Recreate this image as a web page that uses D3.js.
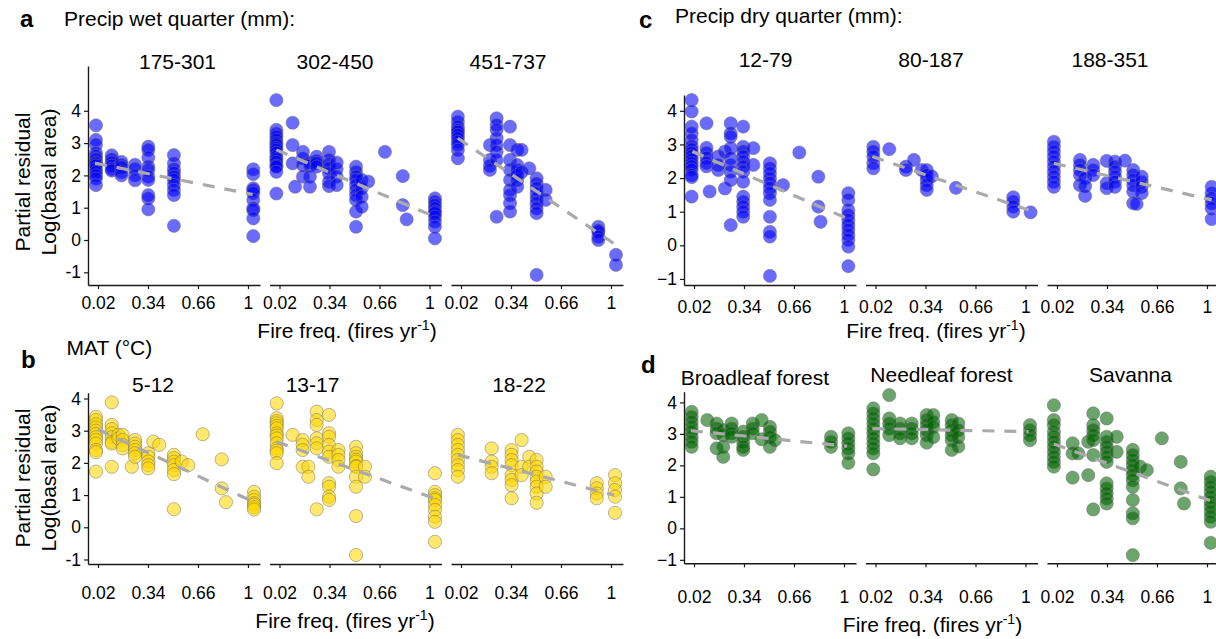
<!DOCTYPE html>
<html><head><meta charset="utf-8">
<script src="https://cdn.jsdelivr.net/npm/d3@7"></script>
<style>
body{margin:0;background:#fff}
text{font-family:"Liberation Sans",Arial,Helvetica,sans-serif;fill:#000}
</style>
</head><body>
<svg id="chart" width="1216" height="639"></svg>
<script>
// ---------- tick labels ----------
const xTickValues = [0.02, 0.34, 0.66, 0.98];
const xTickLabels = ["0.02", "0.34", "0.66", "1"];
const yTickValues = [-1, 0, 1, 2, 3, 4];

// ---------- panel a: Precip wet quarter ----------
const facetsA = ["175-301", "302-450", "451-737"];
const a1 = [
  [0.007, [3.55, 3.1, 2.95, 2.7, 2.6, 2.5, 2.4, 2.35, 2.3, 2.2, 2.1, 2.0, 1.9, 1.7]],
  [0.108, [2.62, 2.5, 2.4, 2.3, 2.2, 2.15]],
  [0.17, [2.42, 2.33, 2.25, 2.1, 2.0]],
  [0.257, [2.33, 2.2, 2.0, 1.85]],
  [0.342, [2.89, 2.79, 2.55, 2.27, 2.17, 1.96, 1.86, 1.39, 1.29, 0.95]],
  [0.506, [2.63, 2.37, 2.19, 2.08, 1.96, 1.86, 1.7, 1.55, 1.39, 0.44]],
  [1.014, [2.19, 2.04, 1.6, 1.55, 1.45, 1.24, 0.98, 0.93, 0.67, 0.12]]
];
const a2 = [
  [0.0, [4.33, 3.41, 3.3, 3.2, 3.1, 3.0, 2.94, 2.85, 2.79, 2.7, 2.58, 2.5, 2.42, 2.3, 2.27, 2.11, 1.44]],
  [0.104, [3.63, 2.94, 2.37]],
  [0.12, [1.65]],
  [0.17, [2.73, 2.53, 2.32, 1.96]],
  [0.215, [2.4, 2.3, 1.96, 1.65]],
  [0.258, [2.58, 2.45, 2.38, 2.27]],
  [0.337, [2.73, 2.48, 2.35, 2.22, 2.06, 1.81, 1.67]],
  [0.386, [2.4, 2.2, 1.96, 1.7]],
  [0.51, [2.27, 2.11, 1.96, 1.86, 1.7, 1.55, 1.39, 1.24, 0.88, 0.41]],
  [0.546, [1.86, 1.6, 1.34, 1.03]],
  [0.588, [1.81]],
  [0.695, [2.73]],
  [0.809, [1.98, 1.08]],
  [0.834, [0.64]],
  [1.015, [1.29, 1.19, 1.08, 0.98, 0.88, 0.83, 0.72, 0.57, 0.41, 0.05]]
];
const a3 = [
  [0.0, [3.82, 3.66, 3.51, 3.4, 3.35, 3.25, 3.15, 3.04, 2.94, 2.79, 2.53]],
  [0.205, [2.94, 2.48, 2.3, 2.17]],
  [0.248, [3.77, 3.56, 3.41, 3.15, 2.94, 2.73, 2.48, 0.72]],
  [0.334, [3.51, 2.94, 2.48, 2.17, 1.86, 1.55, 1.39, 1.14, 0.88]],
  [0.38, [2.79, 2.32, 2.17, 2.01, 1.86, 1.65]],
  [0.408, [2.79, 2.1]],
  [0.457, [2.22]],
  [0.504, [1.91, 1.75, 1.6, 1.44, 1.29, 1.14, 0.98, 0.83, -1.08]],
  [0.562, [1.55, 1.24]],
  [0.899, [0.41, 0.3, 0.26, 0.1, 0.0]],
  [1.012, [-0.46, -0.77]]
];
const trendA = [[0.0, 2.38, 1.01, 1.41], [0.0, 2.79, 1.015, 0.72], [0.0, 3.15, 0.996, -0.1]];

// ---------- panel b: MAT ----------
const facetsB = ["5-12", "13-17", "18-22"];
const b1 = [
  [0.007, [3.43, 3.33, 3.2, 3.1, 3.0, 2.9, 2.8, 2.71, 2.6, 2.4, 2.33, 1.73]],
  [0.108, [3.88, 3.18, 3.05, 2.92, 2.8, 2.65, 2.6, 1.88]],
  [0.15, [2.87, 2.76]],
  [0.178, [2.87, 2.71, 2.56, 2.45]],
  [0.236, [1.88]],
  [0.257, [2.71, 2.6, 2.5, 2.4, 2.3, 2.19]],
  [0.342, [2.3, 2.19, 2.04, 1.93, 1.83]],
  [0.374, [2.66]],
  [0.412, [2.56]],
  [0.506, [2.25, 2.15, 2.04, 1.93, 1.78, 1.65, 0.56]],
  [0.556, [2.04]],
  [0.598, [1.93]],
  [0.69, [2.89]],
  [0.812, [2.11, 1.21]],
  [0.839, [0.78]],
  [1.019, [1.1, 0.95, 0.85, 0.75, 0.7, 0.62, 0.55]]
];
const b2 = [
  [0.002, [3.85, 3.39, 3.3, 3.23, 3.15, 3.07, 2.92, 2.85, 2.76, 2.61, 2.45, 2.38, 2.3, 1.99]],
  [0.104, [2.87]],
  [0.168, [2.71, 2.56, 2.4, 1.88]],
  [0.205, [1.88, 1.57]],
  [0.258, [3.59, 3.33, 3.18, 2.76, 2.61, 2.45, 0.56]],
  [0.337, [3.49, 2.92, 2.81, 2.56, 2.35, 2.19, 1.37, 1.26, 0.95, 0.85]],
  [0.397, [2.4, 2.25, 2.09, 1.88]],
  [0.51, [2.5, 2.3, 2.19, 2.1, 2.04, 1.9, 1.88, 1.57, 1.26, 0.35, -0.86]],
  [0.567, [1.88, 1.57]],
  [1.015, [1.68, 1.1, 1.0, 0.9, 0.85, 0.69, 0.54, 0.33, 0.17, -0.45]]
];
const b3 = [
  [0.0, [2.87, 2.71, 2.56, 2.4, 2.25, 2.09, 1.93, 1.78, 1.57]],
  [0.216, [2.45, 2.04, 1.88, 1.68]],
  [0.344, [2.4, 2.25, 2.09, 1.93, 1.62, 1.47, 1.31, 0.9]],
  [0.408, [2.71, 1.88, 1.62]],
  [0.457, [2.19, 1.88]],
  [0.504, [2.09, 1.88, 1.73, 1.57, 1.42, 1.26, 1.05, 0.76]],
  [0.562, [1.57, 1.26]],
  [0.889, [1.37, 1.21, 1.05, 0.9]],
  [1.006, [1.62, 1.37, 1.16, 0.95, 0.45]]
];
const trendB = [[0.02, 3.04, 1.01, 0.8], [0.0, 2.66, 1.01, 0.9], [0.0, 2.25, 1.0, 1.0]];

// ---------- panel c: Precip dry quarter ----------
const facetsC = ["12-79", "80-187", "188-351"];
const c1 = [
  [0.005, [4.32, 3.98, 3.53, 3.33, 3.13, 2.95, 2.85, 2.75, 2.65, 2.55, 2.44, 2.35, 2.25, 2.09, 2.03, 1.45]],
  [0.10, [3.63, 2.9, 2.75, 2.6, 2.45, 2.35]],
  [0.12, [1.6]],
  [0.175, [2.64, 2.39, 2.24]],
  [0.218, [2.79, 1.69]],
  [0.255, [3.63, 3.33, 3.23, 2.89, 2.59, 2.39, 2.19, 1.94, 0.6]],
  [0.335, [3.53, 2.93, 2.79, 2.64, 2.49, 2.34, 2.19, 1.89, 1.45, 1.3, 1.15, 1.0, 0.85]],
  [0.40, [2.89, 2.39]],
  [0.506, [2.44, 2.29, 2.14, 1.99, 1.85, 1.7, 1.55, 1.35, 0.85, 0.4, 0.26, -0.91]],
  [0.59, [1.79]],
  [0.694, [2.76]],
  [0.816, [2.04, 1.15]],
  [0.83, [0.7]],
  [1.008, [1.55, 1.35, 1.05, 0.9, 0.75, 0.6, 0.46, 0.31, 0.16, -0.04, -0.62]]
];
const c2 = [
  [0.006, [2.93, 2.79, 2.64, 2.44, 2.29]],
  [0.108, [2.86]],
  [0.215, [2.34, 2.24]],
  [0.266, [2.54]],
  [0.316, [2.24]],
  [0.348, [2.24, 2.09, 1.94, 1.79, 1.65]],
  [0.38, [2.05]],
  [0.535, [1.71]],
  [0.902, [1.43, 1.3, 1.15, 1.0]],
  [1.013, [0.98]]
];
const c3 = [
  [0.0, [3.08, 2.93, 2.79, 2.64, 2.49, 2.34, 2.19, 2.04, 1.89, 1.74]],
  [0.167, [2.54, 2.39, 2.24, 2.09, 1.79]],
  [0.2, [1.99, 1.76, 1.47]],
  [0.252, [2.39, 2.24, 2.09]],
  [0.338, [2.51, 1.85, 1.7]],
  [0.391, [2.49, 2.34, 2.19, 2.04, 1.89, 1.74]],
  [0.455, [2.52]],
  [0.508, [2.24, 2.09, 1.94, 1.79, 1.6, 1.25]],
  [0.53, [1.23]],
  [0.562, [2.04, 1.89, 1.74, 1.55]],
  [1.01, [1.74, 1.55, 1.4, 1.25, 1.1, 0.78]]
];
const trendC = [[0.01, 2.79, 1.0, 0.8], [0.0, 2.64, 1.0, 1.05], [0.0, 2.44, 1.01, 1.35]];

// ---------- panel d: vegetation type ----------
const facetsD = ["Broadleaf forest", "Needleaf forest", "Savanna"];
const d1 = [
  [0.005, [3.7, 3.54, 3.38, 3.22, 3.07, 2.91, 2.75, 2.59]],
  [0.105, [3.44]],
  [0.165, [3.33, 3.17, 3.02, 2.54]],
  [0.207, [3.12, 2.96, 2.59, 2.27]],
  [0.261, [3.33, 3.17, 3.02, 2.91]],
  [0.335, [3.07, 2.91, 2.75, 2.59, 2.49]],
  [0.396, [3.33, 3.17, 3.02]],
  [0.453, [3.44, 2.83]],
  [0.506, [3.22, 3.07, 2.9, 2.59]],
  [0.538, [2.8]],
  [0.897, [2.91, 2.75, 2.59]],
  [1.008, [3.02, 2.86, 2.7, 2.54, 2.38, 2.08]]
];
const d2 = [
  [0.006, [3.81, 3.65, 3.49, 3.33, 3.17, 3.02, 2.86, 2.7, 2.54, 2.38, 1.87]],
  [0.108, [4.23, 3.49, 3.33, 3.17, 2.96]],
  [0.177, [3.33, 3.17, 3.02, 2.86]],
  [0.252, [3.33, 3.17, 3.02, 2.86]],
  [0.348, [3.6, 3.44, 3.28, 3.12, 2.96, 2.72]],
  [0.39, [3.6, 3.38, 3.22, 2.9]],
  [0.508, [3.44, 3.28, 3.12, 2.96, 2.8, 2.49]],
  [0.55, [3.33, 3.12, 2.9, 2.6]],
  [1.009, [3.28, 3.12, 2.96, 2.8]]
];
const d3data = [
  [0.0, [3.91, 3.44, 3.28, 3.07, 2.91, 2.75, 2.59, 2.43, 2.27, 2.11, 1.96]],
  [0.12, [2.7, 2.38, 1.61]],
  [0.156, [2.38]],
  [0.22, [2.75, 1.69]],
  [0.252, [3.65, 3.28, 3.12, 2.96, 2.8, 2.33, 0.6]],
  [0.338, [3.49, 2.91, 2.75, 2.59, 2.43, 2.27, 2.11, 1.43, 1.27, 1.11, 0.95, 0.79]],
  [0.402, [2.91, 2.43]],
  [0.505, [2.49, 2.33, 2.17, 2.01, 1.85, 1.69, 1.53, 1.32, 0.9, 0.48, 0.32, -0.85]],
  [0.552, [1.96]],
  [0.595, [1.85]],
  [0.691, [2.86]],
  [0.812, [2.11, 1.27]],
  [0.833, [0.79]],
  [1.004, [1.64, 1.48, 1.32, 1.16, 1.0, 0.84, 0.69, 0.53, 0.37, 0.21, -0.46]]
];
const trendD = [[0.0, 3.1, 1.0, 2.61], [0.0, 3.17, 1.0, 3.07], [0.0, 2.68, 1.0, 0.88]];

// ---------- layout ----------
const FONT_BIG = 21, FONT_TICK = 17.5;
const xDomain = [-0.044, 1.057];
const facetW = 172, facetStep = 181.5;

const panels = [
  {letter: "a", lx: 20, ly: 27, header: "Precip wet quarter (mm):", hx: 64, hy: 26,
   facets: facetsA, data: [a1, a2, a3], trend: trendA, color: "#0000ff",
   left: 88, yTop: 66, yBot: 285, yDomain: [-1.393, 5.387], xPad: 8, minus: "-",
   labX: [177.5, 335, 508], labY: 68.5, titleX: 347, titleY: 338, yTitleY: 182},
  {letter: "b", lx: 21, ly: 368, header: "MAT (°C)", hx: 66.5, hy: 355,
   facets: facetsB, data: [b1, b2, b3], trend: trendB, color: "#FFD700",
   left: 88, yTop: 392.7, yBot: 564, yDomain: [-1.14, 4.18], xPad: 19, minus: "-",
   labX: [153, 312.5, 519], labY: 391.7, titleX: 345, titleY: 628, yTitleY: 478},
  {letter: "c", lx: 639, ly: 28, header: "Precip dry quarter (mm):", hx: 675, hy: 23,
   facets: facetsC, data: [c1, c2, c3], trend: trendC, color: "#0000ff",
   left: 684, yTop: 95, yBot: 285, yDomain: [-1.18, 4.47], xPad: 12, minus: "\u2212",
   labX: [765.5, 931, 1110], labY: 67.3, titleX: 936, titleY: 338, yTitleY: null},
  {letter: "d", lx: 641, ly: 373, header: null,
   facets: facetsD, data: [d1, d2, d3data], trend: trendD, color: "#006400",
   left: 684, yTop: 391.7, yBot: 563.3, yDomain: [-1.11, 4.34], xPad: 23.5, minus: "\u2212",
   labX: [755, 941.5, 1130.5], labY: [385, 381.7, 381.7], titleX: 932.5, titleY: 631.7, yTitleY: null}
];

const svg = d3.select("#chart");

function styleAxis(g) {
  g.selectAll(".domain").attr("stroke", "#1a1a1a").attr("stroke-width", 1.4);
  g.selectAll(".tick line").attr("stroke", "#1a1a1a").attr("stroke-width", 1.2);
  g.selectAll(".tick text").attr("font-size", FONT_TICK)
    .attr("font-family", "'Liberation Sans',Arial,Helvetica,sans-serif").attr("fill", "#000");
}

panels.forEach(p => {
  const y = d3.scaleLinear().domain(p.yDomain).range([p.yBot, p.yTop]);

  // panel letter + header
  svg.append("text").attr("x", p.lx).attr("y", p.ly).attr("font-size", 24)
    .attr("font-weight", "bold").text(p.letter);
  if (p.header) svg.append("text").attr("x", p.hx).attr("y", p.hy)
    .attr("font-size", FONT_BIG).text(p.header);

  p.facets.forEach((fname, i) => {
    const x0 = p.left + i * facetStep;
    const x = d3.scaleLinear().domain(xDomain).range([x0, x0 + facetW]);
    const g = svg.append("g");

    // points
    const pts = p.data[i].flatMap(([fx, ys]) => ys.map(v => ({x: fx, y: v})));
    g.selectAll("circle").data(pts).join("circle")
      .attr("cx", d => x(d.x)).attr("cy", d => y(d.y)).attr("r", 6.6)
      .attr("fill", p.color).attr("fill-opacity", 0.58)
      .attr("stroke", "#707070").attr("stroke-opacity", 0.55).attr("stroke-width", 0.9);

    // dashed trend
    const t = p.trend[i];
    g.append("line")
      .attr("x1", x(t[0])).attr("y1", y(t[1])).attr("x2", x(t[2])).attr("y2", y(t[3]))
      .attr("stroke", "#aaaaaa").attr("stroke-width", 3.2).attr("stroke-dasharray", "12,10");

    // x axis
    const ax = svg.append("g").attr("transform", `translate(0,${p.yBot})`)
      .call(d3.axisBottom(x).tickValues(xTickValues).tickSize(4).tickSizeOuter(0)
        .tickPadding(p.xPad).tickFormat((d, k) => xTickLabels[k]));
    styleAxis(ax);

    // facet label
    const ly = Array.isArray(p.labY) ? p.labY[i] : p.labY;
    svg.append("text").attr("x", p.labX[i]).attr("y", ly).attr("text-anchor", "middle")
      .attr("font-size", FONT_BIG).text(fname);

    // y axis on first facet
    if (i === 0) {
      const ay = svg.append("g").attr("transform", `translate(${x0},0)`)
        .call(d3.axisLeft(y).tickValues(yTickValues).tickSize(4).tickSizeOuter(0)
          .tickPadding(3).tickFormat(d => d < 0 ? p.minus + Math.abs(d) : String(d)));
      styleAxis(ay);
    }
  });

  // x-axis title
  const tt = svg.append("text").attr("x", p.titleX).attr("y", p.titleY)
    .attr("text-anchor", "middle").attr("font-size", FONT_BIG);
  tt.append("tspan").text("Fire freq. (fires yr");
  tt.append("tspan").attr("font-size", 14).attr("dy", -8).text("-1");
  tt.append("tspan").attr("dy", 8).text(")");

  // y-axis title
  if (p.yTitleY !== null) {
    const yt = svg.append("text").attr("transform", `translate(30,${p.yTitleY}) rotate(-90)`)
      .attr("text-anchor", "middle").attr("font-size", FONT_BIG);
    yt.append("tspan").attr("x", 0).attr("y", 0).text("Partial residual");
    yt.append("tspan").attr("x", 0).attr("y", 26).text("Log(basal area)");
  }
});
</script>
</body></html>
